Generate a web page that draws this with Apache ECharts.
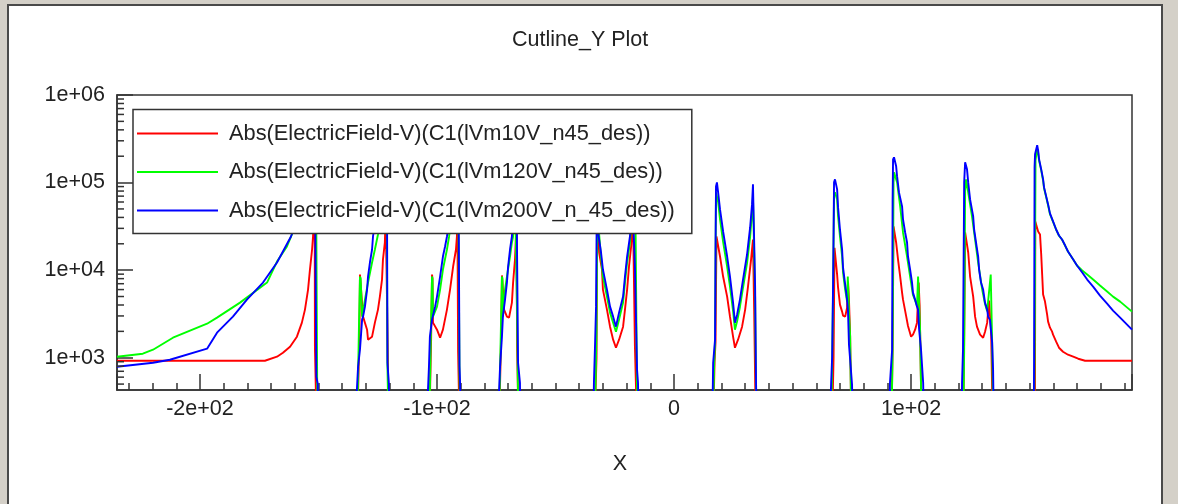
<!DOCTYPE html>
<html><head><meta charset="utf-8">
<script src="https://cdn.jsdelivr.net/npm/echarts@6/dist/echarts.min.js"></script>
<style>html,body{margin:0;padding:0;background:#d4d0c8}#c{width:1178px;height:504px}</style>
</head><body><div id="c"></div>
<script>
const TITLE = 'Cutline_Y Plot';
const X_NAME = 'X';
const SERIES_NAMES = [
  'Abs(ElectricField-V)(C1(lVm10V_n45_des))',
  'Abs(ElectricField-V)(C1(lVm120V_n45_des))',
  'Abs(ElectricField-V)(C1(lVm200V_n_45_des))'
];
const SERIES_COLORS = ['#ff0000', '#00ff00', '#0000ff'];
const X_MIN = -235, X_MAX = 193.2, Y_MIN = 428, Y_MAX = 1000000;
const Y_MINOR_TICKS = [500,600,700,800,900,2000,3000,4000,5000,6000,7000,8000,9000,
  20000,30000,40000,50000,60000,70000,80000,90000,200000,300000,400000,500000,600000,700000,800000,900000];

const red = [
  [-235.0,924],[-200,924],[-172.6,924],[-167.5,1027],[-165.0,1141],[-162.0,1336],[-159.1,1739],[-157.0,2515],[-155.7,3542],[-154.4,5998],[-153.6,10160],[-152.7,17210],[-152.3,24240],[-152.0,40000],[-151.6,60000],[-151.5,1301],[-150.6,100],
  [-133.8,100],[-132.7,2000],[-132.5,8900],[-132.3,8500],[-131.2,2945],[-129.5,2091],[-129.1,1607],[-128.3,1650],[-127.4,1739],[-126.2,2515],[-124.9,3542],[-124.1,4988],[-123.2,7806],[-122.8,13220],[-122.0,20690],[-121.7,40000],[-121.4,40000],[-121.3,10710],[-120.7,877],[-120.3,100],
  [-103.4,100],[-102.5,1500],[-102.1,8900],[-101.9,8000],[-101.7,2515],[-100.0,2091],[-98.7,1693],[-97.5,2091],[-95.8,3542],[-94.5,5998],[-93.2,11000],[-92.0,17210],[-91.6,24240],[-91.4,45000],[-91.2,45000],[-91.1,1171],[-90.3,100],
  [-74.0,100],[-73.0,1500],[-72.6,8700],[-72.4,7500],[-71.7,3542],[-70.5,2945],[-69.6,2869],[-68.4,4259],[-67.9,7214],[-67.1,13220],[-66.7,24240],[-66.5,45000],[-66.3,45000],[-66.2,1235],[-65.4,100],
  [-33.8,100],[-32.7,1000],[-32.4,45000],[-32.0,45000],[-31.6,15900],[-30.4,10160],[-30.0,5998],[-28.3,3542],[-27.0,2263],[-25.7,1607],[-24.5,1301],[-23.2,1607],[-21.5,2263],[-20.7,3542],[-19.8,5998],[-19.0,11000],[-18.1,18620],[-17.3,40000],[-16.7,40000],[-16.5,1336],[-15.4,100],
  [16.3,100],[17.1,900],[17.5,1500],[17.9,24240],[18.1,24240],[19.4,14310],[20.7,8450],[22.4,4988],[23.6,2945],[24.9,1739],[25.7,1301],[27.0,1607],[28.7,2263],[30.0,3542],[31.2,6493],[32.5,13220],[33.3,22390],[33.6,23000],[33.8,3542],[34.6,100],
  [66.5,100],[67.3,1000],[67.7,18000],[68.1,18000],[68.8,8900],[69.2,6300],[70.0,4041],[70.9,3360],[71.3,3030],[72.2,2945],[73.0,3734],[73.4,7406],[73.8,4600],[74.3,1739],[74.9,100],
  [91.6,100],[92.2,1235],[92.6,31540],[92.9,31540],[93.7,20690],[94.5,13220],[95.4,8450],[96.2,5541],[96.6,4600],[97.9,3000],[98.7,2300],[100.0,1739],[100.8,1834],[101.7,2091],[102.5,2515],[103.2,7214],[103.6,4000],[103.8,2091],[104.6,100],
  [121.9,100],[122.4,1700],[122.8,26930],[123.2,26930],[124.1,15900],[124.9,8450],[126.2,4988],[127.0,2945],[127.8,2263],[129.1,1834],[130.4,1693],[131.2,1984],[132.1,2515],[132.9,4500],[133.3,3000],[133.8,1800],[134.6,100],
  [152.2,100],[152.3,949],[152.4,35970],[153.2,35970],[153.6,27640],[154.4,25550],[154.9,15080],[155.3,8906],[155.7,5258],[156.5,4372],[157.4,3105],[157.8,2582],[158.6,2204],[159.5,1984],[159.9,1834],[161.2,1525],[162.4,1301],[164.1,1171],[166.2,1082],[168.4,1027],[170.5,974],[173.4,924],[193.2,924]
];

const green = [
  [-235.0,1027],[-224.1,1111],[-219.8,1235],[-211.4,1693],[-197.0,2447],[-192.8,2869],[-183.1,4259],[-171.7,7214],[-167.5,12540],[-163.3,18620],[-161.2,25550],[-157.0,45000],[-152.0,80000],[-151.0,80000],[-150.4,100],
  [-133.8,100],[-132.9,2500],[-132.5,8450],[-132.2,8000],[-131.6,2945],[-130.4,4609],[-129.1,7214],[-127.4,12220],[-126.2,17210],[-124.9,25550],[-122.5,70000],[-121.2,60000],[-120.9,789],[-120.3,100],
  [-103.4,100],[-102.5,2500],[-102.1,8450],[-101.9,8000],[-101.7,2945],[-100.0,3832],[-98.7,5998],[-97.5,10160],[-95.8,17210],[-94.9,24240],[-93.0,60000],[-91.0,60000],[-90.5,600],[-90.1,100],
  [-74.0,100],[-73.0,2500],[-72.6,8450],[-72.4,8000],[-72.2,2945],[-71.3,5998],[-70.5,8450],[-69.2,14310],[-68.4,20690],[-67.9,24240],[-67.0,60000],[-66.4,60000],[-66.2,2945],[-65.6,100],
  [-33.6,100],[-32.7,2000],[-32.4,50000],[-31.8,30000],[-30.8,14000],[-30.0,8450],[-28.3,4988],[-27.0,3272],[-25.7,2515],[-24.5,1984],[-23.2,2721],[-21.5,4259],[-20.7,7214],[-19.8,12220],[-18.6,20690],[-17.5,50000],[-16.3,50000],[-16.0,6000],[-15.4,100],
  [16.3,100],[16.9,800],[17.3,1500],[17.7,77230],[18.1,77230],[18.6,60000],[19.4,38000],[20.7,21000],[22.4,11000],[23.6,6500],[24.9,3400],[25.7,2091],[26.6,2600],[27.8,3800],[29.1,6300],[30.8,12000],[32.1,24000],[32.9,45000],[33.3,67720],[33.6,67720],[34.2,5000],[34.8,100],
  [66.2,100],[66.7,900],[67.1,6000],[67.5,70000],[67.9,77230],[68.8,64240],[69.2,41040],[70.0,24240],[70.9,14310],[71.3,9387],[72.2,5998],[73.0,4372],[73.3,8450],[73.6,8450],[73.8,3272],[74.3,1739],[74.9,100],
  [91.6,100],[92.2,1200],[92.6,100000],[92.8,130800],[94.1,100500],[95.4,53420],[96.6,26930],[98.3,14310],[99.6,8450],[100.8,5200],[101.7,4500],[102.5,3900],[102.95,8450],[103.4,8450],[103.8,2091],[104.6,100],
  [121.9,100],[122.4,1200],[122.8,80000],[123.2,108800],[124.1,77230],[125.7,41040],[127.0,22390],[128.3,12220],[130.0,6000],[131.2,4100],[132.1,3400],[132.9,3300],[133.6,8906],[133.9,8906],[134.2,1484],[134.8,100],
  [151.7,100],[152.1,1000],[152.5,180000],[153.2,240000],[153.6,220000],[154.0,178000],[154.9,138000],[155.7,105000],[156.1,86000],[157.0,68000],[157.8,55000],[158.6,43500],[159.9,35500],[161.2,29000],[162.4,24700],[163.7,22300],[165.0,19000],[166.2,16300],[168.4,13200],[170.0,11290],[172.2,9895],[174.3,8906],[176.8,7806],[179.7,6666],[182.7,5690],[185.2,4988],[188.2,4372],[193.2,3360]
];

const blue = [
  [-235.0,789],[-219.8,877],[-212.7,949],[-197.0,1268],[-192.8,1932],[-186.1,2945],[-180.2,4609],[-173.4,7214],[-167.5,12220],[-161.6,24240],[-156.0,60000],[-151.5,120000],[-150.9,120000],[-150.9,606],[-150.3,500],[-150.3,100],
  [-134.2,100],[-133.8,430],[-133.3,789],[-132.5,1235],[-131.6,2721],[-131.2,2945],[-130.4,3832],[-129.5,5998],[-129.1,8450],[-128.3,12220],[-127.4,17210],[-127.0,24240],[-124.0,80000],[-121.1,80000],[-120.9,877],[-120.3,500],[-120.1,100],
  [-104.2,100],[-103.8,430],[-103.4,789],[-103.0,1739],[-102.1,2721],[-100.8,3832],[-100.0,4988],[-98.7,8450],[-97.5,14310],[-96.6,18620],[-95.8,24240],[-93.0,70000],[-90.9,70000],[-90.5,800],[-90.3,560],[-89.9,100],
  [-74.2,100],[-73.8,430],[-73.4,789],[-72.6,1739],[-72.2,2945],[-71.3,4609],[-70.5,7214],[-70.0,11000],[-69.2,17210],[-68.4,24240],[-67.5,60000],[-66.4,60000],[-66.2,13220],[-65.8,877],[-65.0,518],[-64.8,100],
  [-34.2,100],[-33.8,518],[-33.3,1500],[-32.9,3832],[-32.6,50000],[-32.3,50000],[-31.8,24240],[-30.8,15900],[-30.0,10160],[-28.3,5998],[-27.0,3832],[-25.7,2945],[-24.5,2263],[-23.2,3272],[-21.5,4988],[-20.7,8450],[-19.8,14310],[-18.6,24240],[-17.5,60000],[-16.7,60000],[-16.5,11000],[-15.6,729],[-15.2,518],[-14.8,100],
  [16.0,100],[16.5,877],[17.3,1607],[17.5,17210],[17.7,90470],[18.1,100500],[18.6,77230],[19.4,49330],[20.7,27640],[22.4,14310],[23.6,8450],[24.9,4259],[25.7,2515],[26.6,3105],[27.8,4609],[29.1,7806],[30.8,15080],[32.1,30720],[32.9,56310],[33.3,95380],[33.6,100500],[34.2,6493],[34.6,518],[35.0,100],
  [65.8,100],[66.2,450],[66.7,1027],[67.1,7214],[67.5,100500],[67.9,108800],[68.8,83590],[69.2,52030],[70.0,29140],[70.9,17210],[71.3,10710],[72.2,6839],[73.0,4609],[73.4,3360],[73.8,1408],[74.3,949],[75.1,490],[75.5,100],
  [90.7,100],[91.1,518],[92.0,1235],[92.2,60000],[92.4,184300],[92.8,194300],[93.7,153300],[94.1,117700],[94.9,77230],[96.2,53420],[96.6,37920],[97.5,26930],[98.3,20690],[98.7,14310],[99.6,10160],[100.4,7214],[100.8,5541],[101.7,4609],[102.5,3832],[102.95,3542],[103.4,2091],[104.2,1235],[105.1,518],[105.5,100],
  [121.2,100],[121.5,518],[121.9,1235],[122.4,100500],[122.8,170300],[123.2,170300],[123.6,141600],[124.1,100500],[124.9,64240],[126.2,41040],[126.6,29140],[127.4,20690],[128.3,14310],[128.7,10160],[129.5,7214],[130.4,5998],[131.2,4259],[132.1,3542],[132.5,2945],[133.3,2721],[134.2,1484],[134.6,729],[135.0,100],
  [151.7,100],[151.9,1000],[152.1,150000],[152.3,210200],[153.2,266500],[153.6,233600],[154.0,184300],[154.9,141600],[155.7,108800],[156.1,88130],[157.0,69520],[157.8,56310],[158.6,44430],[159.9,35970],[161.2,29140],[162.4,24880],[163.7,22390],[165.0,19100],[166.2,16320],[168.4,13220],[170.0,11290],[172.2,9387],[174.3,7806],[176.8,6493],[179.7,5121],[182.7,4148],[185.2,3450],[188.2,2869],[193.2,2091]
];

const SERIES_DATA = [red, green, blue];
const FONT = '"Liberation Sans", Arial, sans-serif';
const TXT = '#222';
const AX = '#333';

function sci(v) {
  if (v === 0) return '0';
  const l = Math.log10(Math.abs(v));
  const e = Math.floor(l + 1e-9);
  const m = v / Math.pow(10, e);
  const ms = String(Math.round(m * 100) / 100);
  return ms + 'e' + (e < 0 ? '-' : '+') + String(Math.abs(e)).padStart(2, '0');
}

const chart = echarts.init(document.getElementById('c'), null, {renderer: 'canvas'});
const series = SERIES_NAMES.map((name, i) => ({
  type: 'line', name: name, data: SERIES_DATA[i],
  showSymbol: false, symbol: 'none', clip: true, z: 2 + i * 0.01,
  lineStyle: {color: SERIES_COLORS[i], width: 1.9},
  itemStyle: {color: SERIES_COLORS[i]},
  emphasis: {disabled: true}, animation: false
}));
series.push({
  type: 'custom', name: 'yminor', silent: true, clip: false, z: 5, animation: false,
  data: Y_MINOR_TICKS.map(v => [X_MIN, v]),
  renderItem: function (params, api) {
    const p = api.coord([api.value(0), api.value(1)]);
    return {type: 'line', shape: {x1: p[0], y1: p[1], x2: p[0] + 7, y2: p[1]},
      style: {stroke: AX, lineWidth: 1.5}};
  }
});

chart.setOption({
  animation: false,
  backgroundColor: '#d4d0c8',
  graphic: [{type: 'rect', z: -100, silent: true,
    shape: {x: 8, y: 5, width: 1154, height: 530},
    style: {fill: '#ffffff', stroke: '#4a4a4a', lineWidth: 2}}],
  title: {text: TITLE, left: 512, top: 29, padding: 0,
    textStyle: {fontSize: 21.5, fontWeight: 'normal', color: TXT, fontFamily: FONT}},
  legend: {
    data: SERIES_NAMES, orient: 'vertical', left: 133, top: 109.5,
    backgroundColor: '#ffffff', borderColor: AX, borderWidth: 1.5, borderRadius: 0,
    padding: [12, 17, 11, 4], itemGap: 14.5, itemWidth: 81, itemHeight: 2, icon: 'rect',
    selectedMode: false, z: 10,
    textStyle: {fontFamily: FONT, fontSize: 21.8, color: TXT, lineHeight: 24, padding: [0, 0, 0, 6]}
  },
  grid: {left: 117, right: 46, top: 95, bottom: 114, show: true,
    borderColor: AX, borderWidth: 1.5, backgroundColor: 'transparent', containLabel: false},
  xAxis: {
    type: 'value', min: X_MIN, max: X_MAX,
    name: X_NAME, nameLocation: 'middle', nameGap: 63,
    nameTextStyle: {fontSize: 21.5, color: TXT, fontFamily: FONT, padding: [0, 9, 0, 0]},
    axisLine: {show: true, onZero: false, lineStyle: {color: AX, width: 1.5}},
    axisTick: {show: true, inside: true, length: 16, lineStyle: {color: AX, width: 1.5}},
    minorTick: {show: true, splitNumber: 10, length: 7, lineStyle: {color: AX, width: 1.5}},
    axisLabel: {formatter: sci, fontSize: 21.5, color: TXT, fontFamily: FONT, margin: 8,
      showMinLabel: false, showMaxLabel: false},
    splitLine: {show: false}, minorSplitLine: {show: false}
  },
  yAxis: {
    type: 'log', logBase: 10, min: Y_MIN, max: Y_MAX,
    axisLine: {show: true, onZero: false, lineStyle: {color: AX, width: 1.5}},
    axisTick: {show: true, inside: true, length: 16, lineStyle: {color: AX, width: 1.5}},
    minorTick: {show: false},
    axisLabel: {
      formatter: function (v) { const l = Math.log10(v); return Math.abs(l - Math.round(l)) < 1e-6 ? sci(v) : ''; },
      fontSize: 21.5, color: TXT, fontFamily: FONT, margin: 12, showMinLabel: false
    },
    splitLine: {show: false}
  },
  series: series
});
</script>
</body></html>
